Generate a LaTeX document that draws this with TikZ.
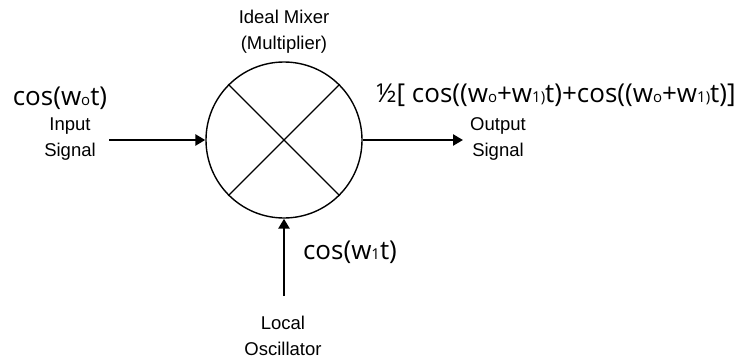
\documentclass[tikz,border=0pt]{standalone}
\usepackage{fontspec}
\setmainfont{Liberation Sans}
\newfontfamily\eqfont{Open Sans}
\usetikzlibrary{arrows.meta}

\newcommand{\lo}[1]{{\fontsize{15}{15}\selectfont #1}}

\begin{document}
\begin{tikzpicture}[
  x=1pt,y=-1pt,
  lbl/.style={font=\fontsize{18.5}{26}\selectfont,align=center,inner sep=0pt},
  eq/.style={font=\eqfont\fontsize{26}{30}\selectfont,inner sep=0pt},
  sig/.style={line width=2.6pt,-{Triangle[length=10pt,width=11pt]}}
]
  \useasboundingbox (0,0) rectangle (750,362);

  % mixer
  \node[circle,draw,line width=1.4pt,minimum size=156pt,inner sep=0pt] (mix) at (284,140) {};
  \draw[line width=1.4pt] (mix.45) -- (mix.225);
  \draw[line width=1.4pt] (mix.135) -- (mix.315);
  \node[lbl] (mixname) at (284,32) {Ideal Mixer\\(Multiplier)};

  % signals
  \coordinate (in) at (109,140);
  \coordinate (out) at (463,140);
  \coordinate (osc) at (284,296);
  \draw[sig] (in) -- (mix);
  \draw[sig] (mix) -- (out);
  \draw[sig] (osc) -- (mix);

  \node[eq] (ineq) at (60,98) {cos(w\lo{o}t)};
  \node[lbl] (inname) at (70,139) {Input\\Signal};
  \node[eq] (outeq) at (556,95) {½[ cos((w\lo{o}+w\lo{1)}t)+cos((w\lo{o}+w\lo{1)}t)]};
  \node[lbl] (outname) at (498,139) {Output\\Signal};
  \node[eq] (osceq) at (350,252) {cos(w\lo{1}t)};
  \node[lbl] (oscname) at (283,336) {Local\\Oscillator};
\end{tikzpicture}
\end{document}
